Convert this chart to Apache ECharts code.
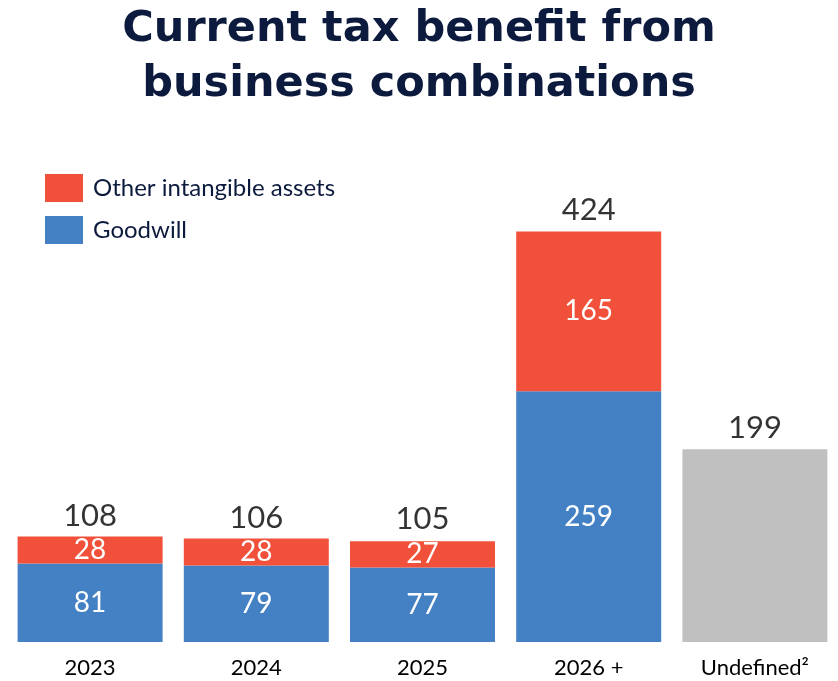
<!DOCTYPE html>
<html>
<head>
<meta charset="utf-8">
<title>Current tax benefit from business combinations</title>
<script src="https://cdn.jsdelivr.net/npm/echarts@6/dist/echarts.min.js"></script>
<style>
  html, body { margin: 0; padding: 0; background: #ffffff; }
  #chart { width: 838px; height: 681px; }
</style>
</head>
<body>
<div id="chart"></div>
<script>
// Categories and values
const categories = ['2023', '2024', '2025', '2026 +', 'Undefined²'];
const goodwill = [81, 79, 77, 259, null];
const otherIntangibles = [28, 28, 27, 165, null];
const undefinedAmount = [null, null, null, null, 199];
const totals = [108, 106, 105, 424, 199];

const FONT = 'Lato, "Open Sans", sans-serif';
const TITLE_FONT = '"DejaVu Sans", Lato, sans-serif';
const NAVY = '#0c1a3d';

const chart = echarts.init(document.getElementById('chart'));

chart.setOption({
  animation: false,
  backgroundColor: '#ffffff',
  title: {
    text: 'Current tax benefit from\nbusiness combinations',
    left: 'center',
    top: -3,
    textStyle: {
      fontFamily: TITLE_FONT,
      fontWeight: 'bold',
      fontSize: 43,
      lineHeight: 55,
      color: NAVY
    }
  },
  legend: {
    orient: 'vertical',
    left: 45,
    top: 174,
    padding: 0,
    itemWidth: 38,
    itemHeight: 28,
    itemGap: 14,
    icon: 'rect',
    data: ['Other intangible assets', 'Goodwill'],
    textStyle: {
      fontFamily: FONT,
      fontSize: 24,
      color: NAVY,
      padding: [0, 0, 0, 5]
    }
  },
  grid: { left: 7, top: 216, width: 834, height: 426, containLabel: false },
  xAxis: {
    type: 'category',
    data: categories,
    axisLine: { show: false },
    axisTick: { show: false },
    axisLabel: {
      margin: 15,
      fontFamily: FONT,
      fontSize: 22,
      color: '#000000'
    }
  },
  yAxis: {
    type: 'value',
    min: 0,
    max: 440,
    show: false,
    splitLine: { show: false }
  },
  series: [
    {
      name: 'Goodwill',
      type: 'bar',
      stack: 'total',
      barWidth: 145,
      data: goodwill,
      itemStyle: { color: '#4480c4' },
      label: {
        show: true,
        position: 'inside',
        fontFamily: FONT,
        fontSize: 28,
        color: '#ffffff'
      }
    },
    {
      name: 'Other intangible assets',
      type: 'bar',
      stack: 'total',
      barWidth: 145,
      data: otherIntangibles,
      itemStyle: { color: '#f1513a' },
      label: {
        show: true,
        position: 'inside',
        fontFamily: FONT,
        fontSize: 28,
        color: '#ffffff'
      }
    },
    {
      name: 'Undefined',
      type: 'bar',
      stack: 'total',
      barWidth: 145,
      data: undefinedAmount,
      itemStyle: { color: '#c0c0c0' },
      label: { show: false }
    },
    {
      name: 'Total',
      type: 'scatter',
      data: totals,
      symbolSize: 0,
      silent: true,
      label: {
        show: true,
        position: 'top',
        distance: 6,
        fontFamily: FONT,
        fontSize: 31,
        color: '#000000'
      }
    }
  ]
});
</script>
</body>
</html>
